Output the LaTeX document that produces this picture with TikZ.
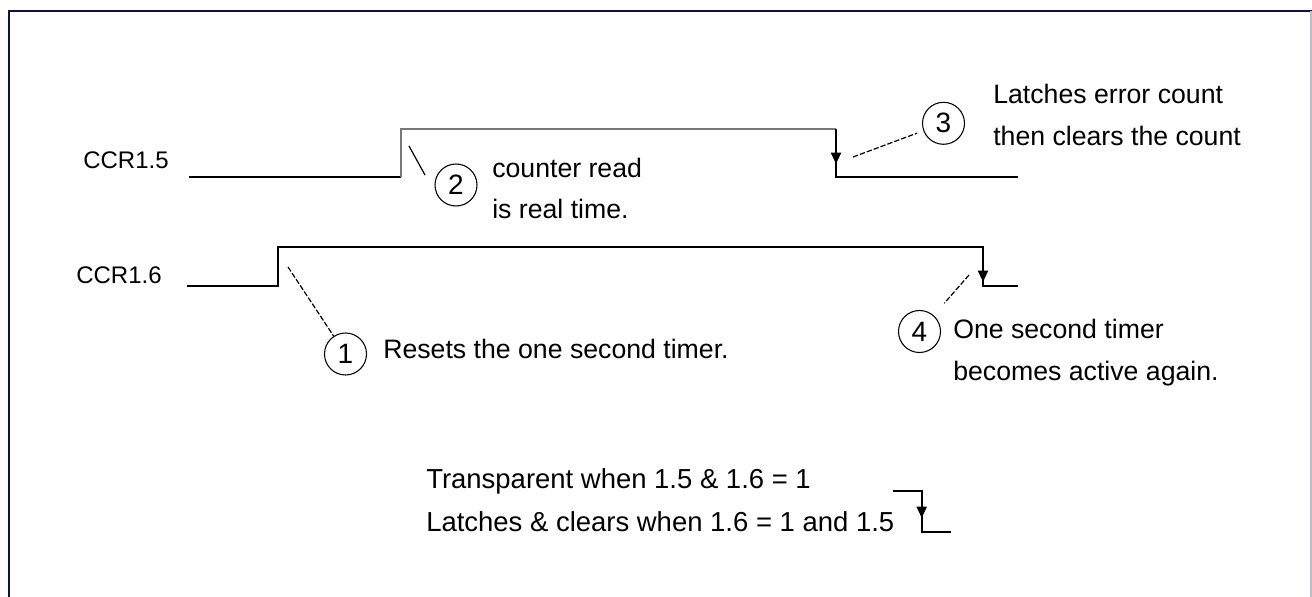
\documentclass[tikz,border=0pt]{standalone}
\usepackage{fontspec}
\setmainfont{Liberation Sans}
\usetikzlibrary{arrows.meta}
\definecolor{framenavy}{RGB}{18,18,64}
\definecolor{framegray}{RGB}{190,190,200}
\definecolor{sigray}{RGB}{120,120,120}
\begin{document}
\begin{tikzpicture}[x=0.75pt,y=-0.75pt,
  sig/.style={line width=1.5pt, line join=miter},
  sighi/.style={line width=1pt, draw=sigray},
  lead/.style={line width=0.9pt},
  leaddash/.style={line width=0.9pt, dash pattern=on 4pt off 1.5pt},
  num/.style={circle, draw, line width=0.8pt, minimum size=31.5pt, inner sep=0pt, font=\fontsize{21}{21}\selectfont},
  lbl/.style={anchor=base west, inner sep=0pt, font=\fontsize{18}{20}\selectfont},
  txt/.style={anchor=base west, inner sep=0pt, font=\fontsize{20}{24}\selectfont},
  btxt/.style={anchor=base west, inner sep=0pt, font=\fontsize{20.6}{24}\selectfont},
  tip/.style={-{Triangle[length=8.5pt,width=7.5pt]}, line width=1.5pt}
]
\useasboundingbox (0,0) rectangle (1312,596);
% frame
\draw[framenavy, line width=2.2pt] (9,597) -- (9,11) -- (1312,11);
\draw[framegray, line width=0.8pt] (1311,11) -- (1311,597);

% CCR1.5 signal
\draw[sig] (189,176.7) -- (401,176.7);
\draw[sighi] (401,176.7) -- (401,129) -- (836,129);
\draw[sig] (836,129) -- (836,176.7) -- (1018,176.7);
\draw[tip] (836,145) -- (836,164);

% CCR1.6 signal
\draw[sig] (186.7,285.7) -- (277.7,285.7) -- (277.7,246.5) -- (983,246.5) -- (983,285.7) -- (1018,285.7);
\draw[tip] (983,262) -- (983,282);

% legend symbol
\draw[sig] (893,491) -- (921.7,491) -- (921.7,531.7) -- (951,531.7);
\draw[tip] (921.7,500) -- (921.7,518);

% labels
\node[lbl] (ccr5) at (83,168.3) {CCR1.5};
\node[lbl] (ccr6) at (76,283.3) {CCR1.6};

% circled numbers
\node[num] (n1) at (345.5,354) {1};
\node[num] (n2) at (456,185) {2};
\node[num] (n3) at (943.5,123.3) {3};
\node[num] (n4) at (919.5,331.5) {4};

% annotation texts
\node[txt] (t2a) at (492,177) {counter read};
\node[txt] (t2b) at (492,218) {is real time.};
\node[txt] (t3a) at (993,103.3) {Latches error count};
\node[txt] (t3b) at (993,145) {then clears the count};
\node[txt] (t1) at (383,358) {Resets the one second timer.};
\node[txt] (t4a) at (953,338) {One second timer};
\node[txt] (t4b) at (953,380) {becomes active again.};
\node[btxt] (b1) at (426,488.3) {Transparent when 1.5 \& 1.6 = 1};
\node[btxt] (b2) at (426,531.7) {Latches \& clears when 1.6 = 1 and 1.5};

% leaders
\coordinate (e1) at (288,267);
\coordinate (e2) at (409,146);
\coordinate (f2) at (425,175);
\coordinate (e3) at (853,157);
\coordinate (e4) at (969,275);
\draw[leaddash] (e1) -- (n1);
\draw[lead] (e2) -- (f2);
\draw[leaddash, shorten >=5pt] (e3) -- (n3);
\draw[leaddash, shorten >=12pt] (e4) -- (n4);
\end{tikzpicture}
\end{document}
